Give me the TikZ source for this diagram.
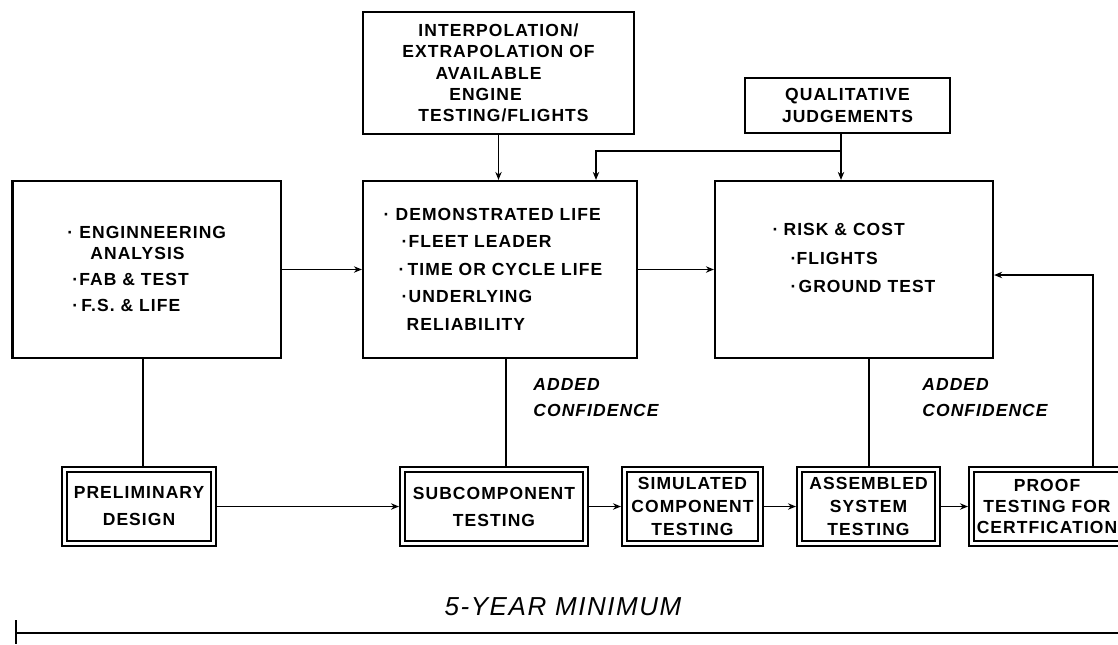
\documentclass[tikz,border=0pt]{standalone}
\usepackage{fontspec}
\setmainfont{Liberation Sans}[LetterSpace=6]
\usetikzlibrary{arrows.meta,calc}
\newcommand{\bulx}[1][6pt]{\makebox[#1][l]{·}}
\begin{document}
\begin{tikzpicture}[x=0.5pt,y=-0.5pt,
  box/.style={draw,line width=1.1pt,rectangle,inner sep=0pt,align=center,
     font=\bfseries\fontsize{8.75}{10.6}\selectfont},
  dbox/.style={draw,double,double distance=1.6pt,line width=0.9pt,rectangle,
     inner sep=0pt,outer sep=1.7pt,align=center,minimum height=37.1pt,
     font=\bfseries\fontsize{8.75}{13.5}\selectfont},
  lbl/.style={font=\bfseries\itshape\fontsize{8.75}{13}\selectfont,align=left,anchor=west,inner sep=0pt},
  conn/.style={line width=0.9pt},
  arr/.style={conn,-{Stealth[length=4pt,width=3.2pt]}},
]
\fill[white] (0,0) rectangle (1118,644);
\useasboundingbox (0,0) rectangle (1118,644);

% upper boxes
\node[box,minimum width=135.5pt,minimum height=61pt] (T) at (498.5,73)
  {INTERPOLATION/\\EXTRAPOLATION OF\\AVAILABLE\rule{10pt}{0pt}\\ENGINE\rule{13pt}{0pt}\\\rule{5pt}{0pt}TESTING/FLIGHTS};
\node[box,minimum width=102.5pt,minimum height=27.5pt] (Q) at (847.5,105.5)
  {QUALITATIVE\\JUDGEMENTS};

\node[box,minimum width=134.25pt,minimum height=88.5pt,font=\bfseries\fontsize{8.75}{13}\selectfont] (L) at (146.75,269.5)
  {\begin{tabular}{@{}l@{}}\bulx ENGINNEERING\\[-2.5pt]\hspace*{11.5pt}ANALYSIS\\ \hspace*{2.5pt}\bulx[3.5pt]FAB \& TEST\\ \hspace*{2.5pt}\bulx[4.5pt]F.S. \& LIFE\end{tabular}};

\node[box,minimum width=137pt,minimum height=88.5pt,font=\bfseries\fontsize{8.75}{13.75}\selectfont] (M) at (500,269.5)
  {\hspace*{-3.5pt}\begin{tabular}{@{}l@{}}\bulx DEMONSTRATED LIFE\\ \hspace*{9pt}\bulx[3.5pt]FLEET LEADER\\ \hspace*{7.5pt}\bulx[4.5pt]TIME OR CYCLE LIFE\\ \hspace*{9pt}\bulx[3.5pt]UNDERLYING\\ \hspace*{11.5pt}RELIABILITY\end{tabular}\hspace*{3.5pt}};

\node[box,minimum width=139pt,minimum height=88.5pt,font=\bfseries\fontsize{8.75}{14.25}\selectfont] (R) at (854,269.5)
  {\raisebox{5.5pt}[\height][\depth]{\begin{tabular}{@{}l@{}}\bulx[5.5pt]RISK \& COST\\ \hspace*{9pt}\bulx[3pt]FLIGHTS\\ \hspace*{9pt}\bulx[4pt]GROUND TEST\end{tabular}}};

% lower double boxes
\node[dbox,minimum width=74.6pt] (P) at (139,506.5) {PRELIMINARY\\DESIGN};
\node[dbox,minimum width=91.6pt] (S) at (494,506.5) {SUBCOMPONENT\\TESTING};
\node[dbox,minimum width=68.1pt,font=\bfseries\fontsize{8.75}{11.5}\selectfont] (C) at (692.5,506.5) {SIMULATED\\COMPONENT\\TESTING};
\node[dbox,minimum width=69.1pt,font=\bfseries\fontsize{8.75}{11.5}\selectfont] (A) at (868.5,506.5) {ASSEMBLED\\SYSTEM\\TESTING};
\node[dbox,minimum width=75.6pt,font=\bfseries\fontsize{8.75}{10.5}\selectfont] (F) at (1047,506.5) {PROOF\\TESTING FOR\\CERTFICATION};

% labels
\node[lbl] (ac1) at (533,398) {ADDED\\CONFIDENCE};
\node[lbl] (ac2) at (922,398) {ADDED\\CONFIDENCE};
\node[font=\itshape\fontsize{13}{15}\selectfont,inner sep=0pt] (yr) at (563,607) {5-YEAR MINIMUM};

% connectors
\coordinate (qj) at (841,151);
\coordinate (qm) at (596,151);
\coordinate (fb) at (1093,275);
\coordinate (lp) at (143,0);
\coordinate (ms) at (506,0);
\coordinate (ra) at (869,0);

\draw[arr] (T.south) -- (T.south |- M.north);
\draw[arr] (Q.south -| qj) -- (qj |- R.north);
\draw[arr] (qj) -- (qm) -- (qm |- M.north);
\draw[arr] (L.east) -- (M.west);
\draw[arr] (M.east) -- (R.west);
\draw[arr] (F.north -| fb) -- (fb) -- (fb -| R.east);

\draw[conn] (L.south -| lp) -- (P.north -| lp);
\draw[conn] (M.south -| ms) -- (S.north -| ms);
\draw[conn] (R.south -| ra) -- (A.north -| ra);

\draw[arr] (P.east) -- (S.west);
\draw[arr] (S.east) -- (C.west);
\draw[arr] (C.east) -- (A.west);
\draw[arr] (A.east) -- (F.west);

% time line
\coordinate (t0) at (16,633);
\coordinate (t1) at (1118,633);
\coordinate (k0) at (16,620);
\coordinate (k1) at (16,644);
\draw[line width=1pt] (t0) -- (t1);
\draw[line width=0.8pt] (k0) -- (k1);
\end{tikzpicture}
\end{document}
